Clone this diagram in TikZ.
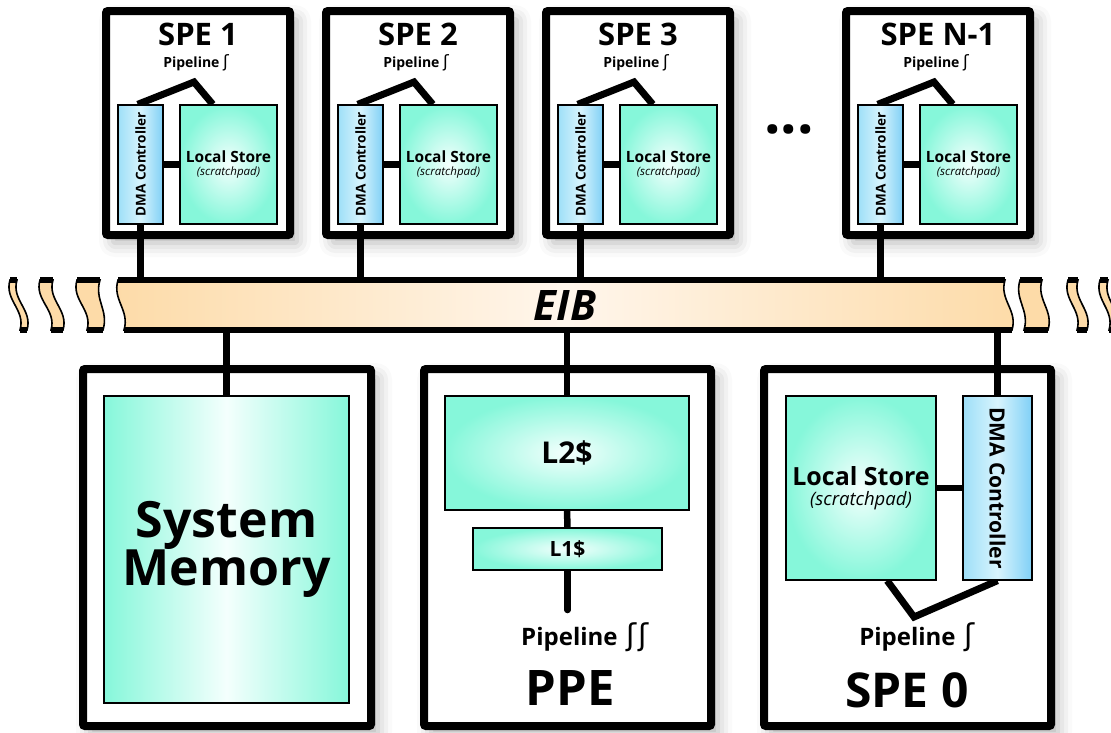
\documentclass[tikz,border=0pt]{standalone}
\usepackage{fontspec}
\setmainfont{Open Sans}
\newfontfamily\djv{DejaVu Sans}
\usetikzlibrary{shadows.blur,calc}
\definecolor{aqua}{HTML}{86F7DA}
\definecolor{aquain}{HTML}{F4FFFD}
\definecolor{dmaL}{HTML}{9EDFF8}
\definecolor{dmaM}{HTML}{D8F4FD}
\definecolor{dmaR}{HTML}{80D0F6}
\definecolor{peach}{HTML}{FDDBA8}
\definecolor{peachlight}{HTML}{FFF6EC}
\newcommand\fsz[1]{\fontsize{#1}{#1}\selectfont}
\newcommand\pipeglyph[1]{{\djv\mdseries\fontsize{#1}{#1}\selectfont ʃ}}
\pgfdeclarelayer{back}
\pgfdeclarelayer{wires}
\pgfsetlayers{back,wires,main}
\tikzset{
  outerbox/.style={draw=black, line width=8pt, fill=white, rounded corners=2pt, inner sep=0pt,
    blur shadow={shadow xshift=7pt, shadow yshift=-8pt, shadow blur radius=14pt, shadow opacity=30}},
  cellbox/.style={draw=black, line width=1.3pt, inner sep=0pt, align=center},
  lsfill/.style={inner color=aquain, outer color=aqua},
  sysfill/.style={left color=aqua, right color=aqua, middle color=aquain},
  dmafill/.style={left color=dmaL, right color=dmaR, middle color=dmaM},
  wire/.style={line width=6.5pt},
  txt/.style={inner sep=0pt, align=center},
  segfill/.style={fill=peach, draw=black, line width=1.6pt},
  mainfill/.style={left color=peach, right color=peach, middle color=peachlight, draw=black, line width=1.6pt},
  eibedge/.style={line width=6pt},
}
\newcommand\eibseg[5][segfill]{%
  \path[#1] (#2,280) -- (#3,280) .. controls ({#3-6},300) and ({#3+#5+6},310) .. ({#3+#5},330)
     -- ({#2+#4},330) .. controls ({#2+#4+6},310) and ({#2-6},300) .. (#2,280) -- cycle;
  \draw[eibedge] (#2,280) -- (#3,280) ({#2+#4},330) -- ({#3+#5},330);}
\begin{document}
\begin{tikzpicture}[x=1pt,y=-1pt]
\useasboundingbox (0,0) rectangle (1111,732);

% EIB bus (node used as anchor for connectors)
\node[inner sep=0pt, minimum width=894pt, minimum height=50pt] (eib) at (565,305) {};
\eibseg{10}{17}{10}{10}
\eibseg{40}{53}{11}{10}
\eibseg{77}{100}{10}{3}
\eibseg[mainfill]{118}{1005}{6}{7}
\eibseg{1020}{1042}{4}{6}
\eibseg{1068}{1078}{9}{9}
\eibseg{1100}{1108}{9}{9}
\node[txt, font=\fsz{42}\bfseries\itshape] (eibtxt) at (eib.center) {EIB};

% top SPEs
\foreach \dx/\n/\lab in {0/1/SPE 1,220/2/SPE 2,440/3/SPE 3,740/4/SPE N-1}{
  \begin{scope}[xshift=\dx pt]
    \node[txt, font=\fsz{31}\bfseries] (t\n) at (198,34) {\lab};
    \node[txt, font=\fsz{14}\bfseries] (pl\n) at (196,63) {Pipeline\hspace{3.5pt}\pipeglyph{17}};
    \node[cellbox, dmafill, minimum width=45pt, minimum height=119pt] (d\n) at (140.5,164.5)
      {\rotatebox{90}{\fsz{13.5}\bfseries DMA Controller}};
    \node[cellbox, lsfill, minimum width=97pt, minimum height=119pt] (ls\n) at (228.5,164.5)
      {{\fsz{15.5}\bfseries Local Store}\\[1pt]{\fsz{11.5}\itshape (scratchpad)}};
    \coordinate (ap\n) at (194,82);
    \begin{pgfonlayer}{back}
      \node[outerbox, minimum width=184pt, minimum height=224pt] (spe\n) at (198,123) {};
      \draw[wire, line width=7pt] ($(d\n.north west)!0.44!(d\n.north east)$) -- (ap\n) -- ($(ls\n.north west)!0.34!(ls\n.north east)$);
      \draw[wire] (d\n.east) -- (ls\n.west);
      \draw[wire] (d\n.south) -- (d\n.south |- eib.north);
    \end{pgfonlayer}
  \end{scope}
}
\node[txt, font=\fsz{58}\bfseries] (dots) at (789,129) {...};

% bottom outer boxes
\begin{pgfonlayer}{back}
  \node[outerbox, minimum width=288pt, minimum height=357pt] (smbox) at (227,547.5) {};
  \node[outerbox, minimum width=287pt, minimum height=357pt] (ppebox) at (567.5,547.5) {};
  \node[outerbox, minimum width=287pt, minimum height=357pt] (spe0box) at (907.5,547.5) {};
\end{pgfonlayer}

% System memory
\node[cellbox, sysfill, minimum width=245pt, minimum height=307pt, font=\fontsize{50}{45}\selectfont\bfseries] (sm) at (226.5,549.5) {System\\Memory};

% PPE
\node[cellbox, lsfill, minimum width=244pt, minimum height=114pt] (l2) at (567,453) {\fsz{30}\bfseries L2\$};
\node[cellbox, lsfill, minimum width=189pt, minimum height=42pt] (l1) at (567.5,549) {\fsz{21}\bfseries L1\$};
\coordinate (pend) at (567.5,610);
\node[txt, font=\fsz{24}\bfseries] (plppe) at (585,637) {Pipeline\hspace{9pt}\pipeglyph{30}\hspace{2pt}\pipeglyph{30}};
\node[txt, font=\fsz{49}\bfseries] (tppe) at (570,688) {PPE};

% SPE 0
\node[cellbox, lsfill, minimum width=150pt, minimum height=184pt] (ls0) at (861,488)
  {{\fsz{25}\bfseries Local Store}\\[5pt]{\fsz{18.5}\itshape (scratchpad)}};
\node[cellbox, dmafill, minimum width=69pt, minimum height=184pt] (d0) at (997.5,488)
  {\rotatebox{-90}{\fsz{21}\bfseries DMA Controller}};
\coordinate (ap0) at (914,617);
\node[txt, font=\fsz{24}\bfseries] (pl0) at (917,637) {Pipeline\hspace{9pt}\pipeglyph{30}};
\node[txt, font=\fsz{48}\bfseries] (t0) at (907,690) {SPE 0};

\begin{pgfonlayer}{wires}
  \draw[wire] (eib.south -| sm.north) -- (sm.north);
  \draw[wire] (eib.south -| l2.north) -- (l2.north);
  \draw[wire] (l2.south) -- (l1.north);
  \draw[wire, line cap=round] (l1.south) -- (pend);
  \draw[wire] (eib.south -| d0.north) -- (d0.north);
  \draw[wire] (ls0.east) -- (d0.west);
  \draw[wire, line width=7pt] ($(ls0.south west)!0.673!(ls0.south east)$) -- (ap0) -- (d0.south);
\end{pgfonlayer}
\end{tikzpicture}
\end{document}
